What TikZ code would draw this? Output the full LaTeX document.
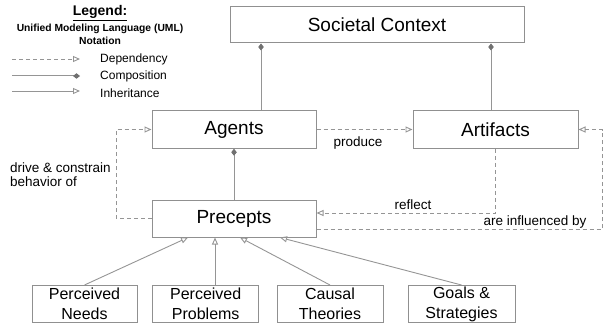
\documentclass[tikz,border=0pt]{standalone}
\usepackage{fontspec}
\setmainfont{Liberation Sans}
\usetikzlibrary{arrows.meta,calc}
\definecolor{boxgray}{HTML}{909090}
\definecolor{linegray}{HTML}{959595}
\definecolor{diamgray}{HTML}{707070}
\tikzset{
  box/.style={draw=boxgray, line width=1pt, inner sep=0pt, align=center},
  bigbox/.style={box, font=\fontsize{19}{22}\selectfont},
  smallbox/.style={box, minimum width=106pt, minimum height=37pt, font=\fontsize{16}{20}\selectfont},
  dep/.style={draw=linegray, line width=0.9pt, dash pattern=on 4pt off 3pt, -{Triangle[open, length=7pt, width=6pt]}},
  comp/.style={draw=linegray, line width=1pt, -{Diamond[length=7pt, width=5.5pt, fill=diamgray, color=diamgray]}},
  inh/.style={draw=linegray, line width=0.9pt, -{Triangle[open, length=7pt, width=6pt]}},
  lbl/.style={inner sep=0pt, font=\fontsize{13.5}{14.5}\selectfont},
  leg/.style={inner sep=0pt, font=\fontsize{12}{14}\selectfont},
}
\begin{document}
\begin{tikzpicture}[x=1pt, y=-1pt]
\useasboundingbox (0,0) rectangle (608,329);

% main boxes
\node[bigbox, minimum width=294pt, minimum height=36pt] (soc) at (377,25) {Societal Context};
\node[bigbox, minimum width=164pt, minimum height=37.5pt] (agents) at (234,129.5) {Agents};
\node[bigbox, minimum width=165pt, minimum height=37.5pt] (art) at (495.5,129.5) {Artifacts};
\node[bigbox, minimum width=164pt, minimum height=37pt] (prec) at (234,218.5) {Precepts};

% bottom boxes
\node[smallbox, minimum width=105pt] (b1) at (84.5,304) {Perceived\\Needs};
\node[smallbox] (b2) at (205.7,304) {Perceived\\Problems};
\node[smallbox] (b3) at (330,304) {Causal\\Theories};
\node[smallbox, minimum width=107pt] (b4) at (461.5,304) {Goals \&\\Strategies};

% helper coordinates
\coordinate (cx1) at (261,0);
\coordinate (cx2) at (491,0);
\coordinate (ry) at (0,213);
\coordinate (iy) at (0,229.5);
\coordinate (lx) at (116,0);
\coordinate (rx) at (602,0);
\coordinate (t1) at (188,0);
\coordinate (t2) at (215,0);
\coordinate (t3) at (240,0);
\coordinate (t4) at (280,0);
\coordinate (s2) at (215,0);

% composition
\draw[comp] (agents.north -| cx1) -- (soc.south -| cx1);
\draw[comp] (art.north -| cx2) -- (soc.south -| cx2);
\draw[comp] (prec.north) -- (agents.south);

% dependencies
\draw[dep] (agents.east) -- (art.west);
\draw[dep] (prec.west) -| (lx |- agents.west) -- (agents.west);
\draw[dep] (art.south) |- (prec.east |- ry);
\draw[dep] (prec.east |- iy) -| (rx |- art.east) -- (art.east);

% inheritance
\draw[inh] (b1.north) -- (prec.south -| t1);
\draw[inh] (b2.north -| s2) -- (prec.south -| t2);
\draw[inh] (b3.north) -- (prec.south -| t3);
\draw[inh] (b4.north) -- (prec.south -| t4);

% labels
\node[lbl] (produce) at (358,143) {produce};
\node[lbl, align=left, anchor=west, font=\fontsize{13.5}{14}\selectfont] (drive) at (10,175) {drive \& constrain\\behavior of};
\node[lbl] (reflect) at (413,205) {reflect};
\node[lbl] (infl) at (535,222.5) {are influenced by};

% legend
\node[inner sep=0pt, font=\bfseries\fontsize{14}{16}\selectfont] (legt) at (100,13) {\underline{Legend:}};
\node[inner sep=0pt, align=center, font=\bfseries\fontsize{10.3}{13}\selectfont] (legs) at (100,34.5) {Unified Modeling Language (UML)\\Notation};
\coordinate (l1a) at (12,59); \coordinate (l1b) at (80,59);
\coordinate (l2a) at (12,76); \coordinate (l2b) at (80,76);
\coordinate (l3a) at (12,91); \coordinate (l3b) at (80,91);
\draw[dep] (l1a) -- (l1b);
\draw[comp] (l2a) -- (l2b);
\draw[inh] (l3a) -- (l3b);
\node[leg, anchor=west] (ld) at (100,59.5) {Dependency};
\node[leg, anchor=west] (lc) at (100,76.5) {Composition};
\node[leg, anchor=west] (li) at (100,93) {Inheritance};
\end{tikzpicture}
\end{document}
